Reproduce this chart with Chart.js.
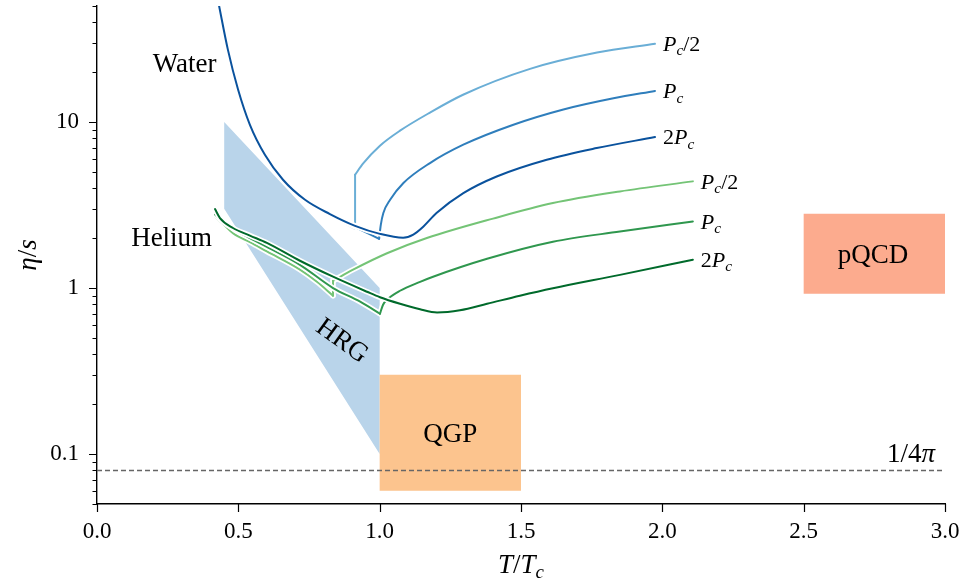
<!DOCTYPE html>
<html>
<head>
<meta charset="utf-8">
<script src="https://cdn.jsdelivr.net/npm/chart.js@4.4.0/dist/chart.umd.min.js"></script>
<style>
  html, body { margin: 0; padding: 0; background: #ffffff; }
  #wrap { width: 962px; height: 585px; }
</style>
</head>
<body>
<div id="wrap"><canvas id="chart" width="962" height="585"></canvas></div>
<script>
// ---- axis ticks ----
const tempTicks = [0, 0.5, 1.0, 1.5, 2.0, 2.5, 3.0];
const etaMajorTicks = [0.1, 1, 10];
const etaMinorTicks = [0.05, 0.06, 0.07, 0.08, 0.09, 0.2, 0.3, 0.4, 0.5, 0.6, 0.7, 0.8, 0.9,
                       2, 3, 4, 5, 6, 7, 8, 9, 20, 30, 40, 50];

// ---- water isobars (T/Tc, eta/s); corners = indices where the curve has a kink ----
const waterHalfT   = [0.430, 0.463, 0.499, 0.541, 0.594, 0.658, 0.736, 0.824, 0.913, 0.913, 0.941, 1.001, 1.072, 1.178, 1.295, 1.532, 1.769, 1.974];
const waterHalfEta = [52, 27.3, 15.7, 9.62, 6.35, 4.49, 3.40, 2.75, 2.27, 4.81, 5.61, 7.20, 8.87, 11.4, 14.6, 20.9, 26.2, 29.6];
const waterHalfCorners = [8, 9];

const waterPcT   = [0.430, 0.463, 0.499, 0.541, 0.594, 0.658, 0.736, 0.824, 0.913, 0.998, 1.004, 1.013, 1.037, 1.084, 1.178, 1.296, 1.473, 1.650, 1.827, 1.974];
const waterPcEta = [52, 27.3, 15.7, 9.62, 6.35, 4.49, 3.40, 2.77, 2.33, 1.98, 2.40, 2.83, 3.40, 4.29, 5.66, 7.30, 9.63, 11.9, 13.9, 15.4];
const waterPcCorners = [9];

const water2PcT   = [0.430, 0.463, 0.499, 0.541, 0.594, 0.658, 0.736, 0.824, 0.913, 1.001, 1.083, 1.119, 1.155, 1.201, 1.296, 1.414, 1.591, 1.768, 1.974];
const water2PcEta = [52, 27.3, 15.7, 9.62, 6.35, 4.49, 3.40, 2.79, 2.37, 2.12, 2.01, 2.10, 2.35, 2.83, 3.73, 4.70, 5.93, 6.97, 8.12];
const water2PcCorners = [];

// ---- helium isobars ----
const heliumHalfT   = [0.4175, 0.449, 0.481, 0.541, 0.601, 0.718, 0.778, 0.835, 0.835, 0.906, 1.026, 1.167, 1.401, 1.613, 1.850, 2.108];
const heliumHalfEta = [2.70, 2.41, 2.14, 1.89, 1.66, 1.29, 1.09, 0.899, 1.106, 1.29, 1.62, 2.00, 2.62, 3.25, 3.82, 4.39];
const heliumHalfCorners = [7, 8];

const heliumPcT   = [0.4175, 0.446, 0.481, 0.541, 0.601, 0.718, 0.835, 0.931, 1.001, 1.012, 1.026, 1.072, 1.143, 1.189, 1.380, 1.613, 1.850, 2.108];
const heliumPcEta = [2.77, 2.51, 2.28, 2.00, 1.77, 1.38, 1.00, 0.827, 0.700, 0.793, 0.850, 0.963, 1.09, 1.17, 1.50, 1.90, 2.19, 2.52];
const heliumPcCorners = [8];

const helium2PcT   = [0.4175, 0.435, 0.481, 0.541, 0.601, 0.718, 0.835, 0.955, 1.001, 1.072, 1.143, 1.203, 1.284, 1.380, 1.496, 1.613, 1.850, 2.108];
const helium2PcEta = [2.99, 2.64, 2.30, 2.07, 1.87, 1.46, 1.17, 0.950, 0.880, 0.804, 0.745, 0.713, 0.735, 0.804, 0.899, 0.997, 1.20, 1.48];
const helium2PcCorners = [];

// ---- regions ----
const hrgT   = [0.45, 1.0, 1.0, 0.45, 0.45];
const hrgEta = [10, 1.0, 0.1, 3.0, 10];
const qgpT   = [1.0, 1.5, 1.5, 1.0, 1.0];
const qgpEta = [0.06, 0.06, 0.3, 0.3, 0.06];
const pqcdT   = [2.5, 3.0, 3.0, 2.5, 2.5];
const pqcdEta = [0.925, 0.925, 2.8, 2.8, 0.925];

// ---- KSS bound 1/4pi ----
const kssT   = [0, 3];
const kssEta = [0.0796, 0.0796];

const FONT = "'Liberation Serif', 'Times New Roman', serif";

const pts = (xs, ys) => xs.map((x, i) => ({ x: x, y: ys[i] }));

// datasets listed in painting sequence (first = bottom)
const layers = [];
function addRegion(name, xs, ys, color) {
  layers.push({ label: name, data: pts(xs, ys), borderColor: 'rgba(0,0,0,0)', borderWidth: 0,
                backgroundColor: color, fill: 'shape', pointRadius: 0, tension: 0 });
}
// a curve is split at its kinks; each piece is smooth, with a white outline underneath
function addCurve(name, xs, ys, corners, color) {
  const cuts = [0, ...corners, xs.length - 1];
  const pieces = [];
  for (let k = 0; k < cuts.length - 1; k++) pieces.push([cuts[k], cuts[k + 1]]);
  const make = ([a, b], outline) => {
    const data = pts(xs.slice(a, b + 1), ys.slice(a, b + 1));
    const vertical = data.length === 2 && data[0].x === data[1].x;
    return { label: name + (outline ? ' outline' : ''), data: data,
             borderColor: outline ? '#ffffff' : color, borderWidth: outline ? 5.5 : 2,
             fill: false, pointRadius: 0, tension: 0,
             cubicInterpolationMode: vertical ? 'default' : 'monotone',
             borderCapStyle: 'round', borderJoinStyle: 'round' };
  };
  pieces.forEach(p => layers.push(make(p, true)));
  pieces.forEach(p => layers.push(make(p, false)));
}

addRegion('HRG', hrgT, hrgEta, '#b9d4ea');
addRegion('QGP', qgpT, qgpEta, '#fcc48e');
addRegion('pQCD', pqcdT, pqcdEta, '#fcab8e');
layers.push({ label: '1/4pi', data: pts(kssT, kssEta), borderColor: '#666666', borderWidth: 1.3,
              borderDash: [5, 3], fill: false, pointRadius: 0, tension: 0 });
addCurve('Water Pc/2', waterHalfT, waterHalfEta, waterHalfCorners, '#6aaed6');
addCurve('Water Pc', waterPcT, waterPcEta, waterPcCorners, '#2f7ebc');
addCurve('Water 2Pc', water2PcT, water2PcEta, water2PcCorners, '#0a529d');
addCurve('Helium Pc/2', heliumHalfT, heliumHalfEta, heliumHalfCorners, '#74c476');
addCurve('Helium Pc', heliumPcT, heliumPcEta, heliumPcCorners, '#2f974e');
addCurve('Helium 2Pc', helium2PcT, helium2PcEta, helium2PcCorners, '#006a2b');
layers.forEach((d, i) => { d.order = layers.length - i; });

// rich text: parts are [text, style] with style 'r' (roman), 'i' (italic), 's' (italic subscript)
function richText(ctx, parts, x, y, size, align, angle) {
  const fontFor = s => (s === 'r' ? '' : 'italic ') + (s === 's' ? size * 0.7 : size) + 'px ' + FONT;
  let total = 0;
  const widths = parts.map(([t, s]) => { ctx.font = fontFor(s); const w = ctx.measureText(t).width; total += w; return w; });
  ctx.save();
  ctx.translate(x, y);
  if (angle) ctx.rotate(angle);
  ctx.fillStyle = '#000000';
  ctx.textAlign = 'left';
  ctx.textBaseline = 'alphabetic';
  let cx = align === 'left' ? 0 : (align === 'right' ? -total : -total / 2);
  const lift = angle && align === 'center' ? size * 0.33 : 0;
  parts.forEach(([t, s], i) => {
    ctx.font = fontFor(s);
    ctx.fillText(t, cx, (s === 's' ? size * 0.2 : 0) + lift);
    cx += widths[i];
  });
  ctx.restore();
}

const seriesLabels = [
  { xs: waterHalfT, ys: waterHalfEta, parts: [['P', 'i'], ['c', 's'], ['/2', 'r']] },
  { xs: waterPcT, ys: waterPcEta, parts: [['P', 'i'], ['c', 's']] },
  { xs: water2PcT, ys: water2PcEta, parts: [['2', 'r'], ['P', 'i'], ['c', 's']] },
  { xs: heliumHalfT, ys: heliumHalfEta, parts: [['P', 'i'], ['c', 's'], ['/2', 'r']] },
  { xs: heliumPcT, ys: heliumPcEta, parts: [['P', 'i'], ['c', 's']] },
  { xs: helium2PcT, ys: helium2PcEta, parts: [['2', 'r'], ['P', 'i'], ['c', 's']] }
];

const decorations = {
  id: 'decorations',
  afterDatasetsDraw(chart) {
    const { ctx, scales: { x, y } } = chart;
    const big = 27;
    const cap = s => s * 0.33;
    richText(ctx, [['Water', 'r']], x.getPixelForValue(0.31), y.getPixelForValue(22.7) + cap(big), big, 'center');
    richText(ctx, [['Helium', 'r']], x.getPixelForValue(0.264), y.getPixelForValue(2.04) + cap(big), big, 'center');
    richText(ctx, [['QGP', 'r']], x.getPixelForValue(1.25), y.getPixelForValue(0.134) + cap(big), big, 'center');
    richText(ctx, [['pQCD', 'r']], x.getPixelForValue(2.745), y.getPixelForValue(1.61) + cap(big), big, 'center');
    richText(ctx, [['HRG', 'r']], x.getPixelForValue(0.87), y.getPixelForValue(0.488), big, 'center', 36 * Math.PI / 180);
    richText(ctx, [['1/4', 'r'], ['\u03c0', 'i']], x.getPixelForValue(2.965), y.getPixelForValue(kssEta[0]) - 8, big, 'right');
    const small = 22;
    seriesLabels.forEach(l => {
      const n = l.xs.length - 1;
      richText(ctx, l.parts, x.getPixelForValue(l.xs[n]) + 8, y.getPixelForValue(l.ys[n]) + cap(small), small, 'left');
    });
  },
  afterDraw(chart) {
    const { ctx, chartArea: a, scales: { x, y } } = chart;
    ctx.save();
    ctx.strokeStyle = '#000000';
    ctx.lineWidth = 1.2;
    ctx.beginPath();
    tempTicks.forEach(v => { const p = Math.round(x.getPixelForValue(v)) + 0.5; ctx.moveTo(p, a.bottom); ctx.lineTo(p, a.bottom + 8); });
    etaMajorTicks.forEach(v => { const p = Math.round(y.getPixelForValue(v)) + 0.5; ctx.moveTo(a.left - 8, p); ctx.lineTo(a.left, p); });
    etaMinorTicks.forEach(v => { const p = Math.round(y.getPixelForValue(v)) + 0.5; ctx.moveTo(a.left - 4.5, p); ctx.lineTo(a.left, p); });
    ctx.stroke();
    ctx.restore();
    // axis titles
    richText(ctx, [['T', 'i'], ['/', 'r'], ['T', 'i'], ['c', 's']], (a.left + a.right) / 2, 573, 27, 'center');
    richText(ctx, [['\u03b7', 'i'], ['/', 'r'], ['s', 'i']], 27, (a.top + a.bottom) / 2, 27, 'center', -Math.PI / 2);
  }
};

new Chart(document.getElementById('chart'), {
  type: 'line',
  data: { datasets: layers },
  plugins: [decorations],
  options: {
    responsive: false,
    animation: false,
    events: [],
    layout: { padding: { left: 0, top: 6, right: 17, bottom: 0 } },
    plugins: { legend: { display: false }, tooltip: { enabled: false } },
    scales: {
      x: {
        type: 'linear', min: 0, max: 3,
        afterBuildTicks: s => { s.ticks = tempTicks.map(v => ({ value: v })); },
        afterFit: s => { s.height = 81; s.paddingLeft = 0; s.paddingRight = 0; },
        grid: { display: false, drawTicks: true, tickLength: 8 },
        border: { display: true, color: '#000000', width: 1.4 },
        ticks: { color: '#000000', padding: 6, maxRotation: 0, font: { family: FONT, size: 23 },
                 callback: v => Number(v).toFixed(1) }
      },
      y: {
        type: 'logarithmic', min: 0.05, max: 50,
        afterBuildTicks: s => { s.ticks = etaMajorTicks.map(v => ({ value: v })); },
        afterFit: s => { s.width = 97; s.paddingTop = 0; s.paddingBottom = 0; },
        grid: { display: false, drawTicks: true, tickLength: 8 },
        border: { display: true, color: '#000000', width: 1.4 },
        ticks: { color: '#000000', padding: 10, font: { family: FONT, size: 23 },
                 callback: v => (v === 0.1 ? '0.1' : String(v)) }
      }
    }
  }
});
</script>
</body>
</html>
